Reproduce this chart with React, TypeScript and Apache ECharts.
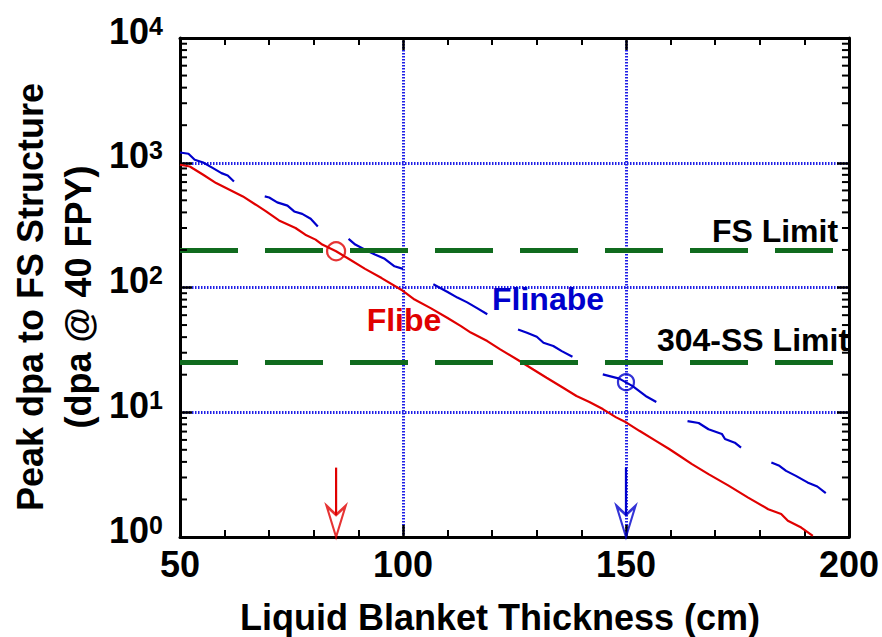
import React, { useEffect, useRef } from "react";
import * as echarts from "echarts";

// ---- axis / tick data ----
const xMin = 50;
const xMax = 200;
const xInterval = 50;
const yMin = 1;
const yMax = 10000;
const yMinorTicks = [
  2, 3, 4, 5, 6, 7, 8, 9,
  20, 30, 40, 50, 60, 70, 80, 90,
  200, 300, 400, 500, 600, 700, 800, 900,
  2000, 3000, 4000, 5000, 6000, 7000, 8000, 9000,
];

// ---- Flibe (red) ----
const flibeX = [
  50, 52.2, 55.2, 58.1, 61.1, 64.1, 67.0, 69.3, 72.2, 75.9, 78.1, 80.4, 81.9, 85.0,
  87.8, 91.5, 95.2, 99.6, 102.6, 106.3, 110.0, 113.0, 115.2, 118.9, 121.8, 125.6,
  129.3, 132.2, 135.9, 138.9, 141.8, 144.8, 147.8, 150.0, 153.0, 156.7, 159.6,
  161.9, 164.8, 168.5, 173.0, 177.4, 181.9, 184.8, 186.3, 189.3, 191.9,
];
const flibeY = [
  964, 933, 802, 687, 608, 537, 461, 407, 345, 300, 265, 242, 221, 195,
  170, 141, 119, 96, 80, 68, 57, 49, 43.5, 37.2, 31.9, 26.5,
  21.9, 18.9, 15.7, 13.5, 12.1, 10.6, 9.1, 8.3, 7.1, 5.9, 5.1,
  4.5, 3.84, 3.19, 2.58, 2.07, 1.67, 1.53, 1.35, 1.19, 1.02,
];

// ---- Flinabe (blue), drawn as broken segments ----
const flinabeSeg1 = [[50.0, 1208], [51.9, 1180], [53.3, 1057], [55.2, 1005], [57.4, 906], [59.3, 826], [60.7, 791], [62.1, 708]];
const flinabeSeg2 = [[69.0, 537], [70.0, 527], [71.8, 481], [74.1, 453], [75.6, 407], [77.4, 389], [79.3, 356], [80.9, 309]];
const flinabeSeg3 = [[87.8, 245], [89.3, 221], [91.5, 201], [93.7, 184], [95.9, 170], [98.1, 148], [100.0, 141]];
const flinabeSeg4 = [[106.8, 106], [110.0, 92], [112.2, 83], [114.4, 76], [116.7, 68], [118.9, 61]];
const flinabeSeg5 = [[125.8, 46.1], [127.8, 43.4], [130.0, 40.3], [131.5, 36.1], [133.7, 34.0], [135.6, 30.9], [138.0, 27.9]];
const flinabeSeg6 = [[144.8, 20.1], [148.5, 18.6], [151.5, 16.2], [154.4, 13.5], [156.8, 12.1]];
const flinabeSeg7 = [[163.8, 8.5], [166.3, 8.2], [168.5, 7.3], [171.5, 6.7], [172.2, 6.1], [174.4, 5.7], [175.8, 5.2]];
const flinabeSeg8 = [[182.6, 3.96], [184.4, 3.72], [185.9, 3.39], [188.1, 3.09], [190.7, 2.74], [192.9, 2.54], [194.8, 2.25]];
const flinabeSegments = [flinabeSeg1, flinabeSeg2, flinabeSeg3, flinabeSeg4, flinabeSeg5, flinabeSeg6, flinabeSeg7, flinabeSeg8];

// ---- limits, markers, arrows ----
const fsLimit = 200;
const ss304Limit = 25;
const flibePoint = [85, 195];
const flinabePoint = [150, 17.4];
const flibeArrowX = 85;
const flinabeArrowX = 150;
const arrowTop = 3.6;
const arrowNotch = 1.5;
const arrowTip = 1;

const RED = "#e00000";
const BLUE = "#0000cc";
const GREEN = "#106b1e";
const GRIDBLUE = "#1f1fe6";
const FONT = "'Liberation Sans', Arial, Helvetica, sans-serif";

const arrowHead = "path://M0,0L9.5,9L19,0L9.5,31Z";

function frameAxis(position: string, showLabel: boolean, isX: boolean) {
  const base: any = {
    position,
    axisLine: { show: true, onZero: false, lineStyle: { color: "#000", width: 3 } },
    axisTick: { show: true, inside: true, length: 12, lineStyle: { color: "#000", width: 2.5 } },
    splitLine: {
      show: showLabel,
      showMinLine: true,
      showMaxLine: true,
      lineStyle: { color: GRIDBLUE, width: 3, type: [1.5, 1.5] },
    },
  };
  if (isX) {
    Object.assign(base, {
      type: "value",
      min: xMin,
      max: xMax,
      interval: xInterval,
      minorTick: { show: true, splitNumber: 5, length: 7, lineStyle: { color: "#000", width: 2 } },
      axisLabel: {
        show: showLabel,
        margin: 9,
        color: "#000",
        fontFamily: FONT,
        fontWeight: "bold",
        fontSize: 36,
      },
    });
  } else {
    Object.assign(base, {
      type: "log",
      logBase: 10,
      min: yMin,
      max: yMax,
      minorTick: { show: false },
      axisLabel: {
        show: showLabel,
        margin: 17,
        padding: [0, 0, 14, 0],
        formatter: (v: number) => `{b|10}{e|${Math.round(Math.log10(v))}}`,
        rich: {
          b: { fontSize: 36, fontWeight: "bold", fontFamily: FONT, color: "#000", lineHeight: 36 },
          e: { fontSize: 25, fontWeight: "bold", fontFamily: FONT, color: "#000", verticalAlign: "top", lineHeight: 14 },
        },
      },
    });
  }
  return base;
}

function textEl(text: string, x: number, y: number, color: string, size: number, extra: any = {}) {
  return {
    type: "text",
    x,
    y,
    z: 100,
    ...extra,
    style: {
      text,
      fill: color,
      font: `bold ${size}px ${FONT}`,
      textAlign: "center",
      textVerticalAlign: "middle",
      ...(extra.style || {}),
    },
  };
}

export default function App() {
  const ref = useRef<HTMLDivElement>(null);

  useEffect(() => {
    if (!ref.current) return;
    const chart = echarts.init(ref.current, null, { renderer: "svg" });

    const flibeData = flibeX.map((x, i) => [x, flibeY[i]]);

    const series: any[] = [
      {
        name: "limits",
        type: "line",
        data: [],
        z: 1,
        markLine: {
          silent: true,
          symbol: ["none", "none"],
          label: { show: false },
          lineStyle: { color: GREEN, width: 5, type: [58, 27] },
          data: [{ yAxis: fsLimit }, { yAxis: ss304Limit }],
        },
      },
      {
        name: "Flibe",
        type: "line",
        data: flibeData,
        showSymbol: false,
        z: 3,
        lineStyle: { color: RED, width: 2.2 },
      },
      ...flinabeSegments.map((seg, i) => ({
        name: "Flinabe" + i,
        type: "line",
        data: seg,
        showSymbol: false,
        z: 3,
        lineStyle: { color: BLUE, width: 2.2 },
      })),
      {
        name: "yMinorTicks",
        type: "custom",
        z: 5,
        clip: false,
        data: yMinorTicks.map((v) => [xMin, v]),
        renderItem: (params: any, api: any) => {
          const v = api.value(1);
          const pl = api.coord([xMin, v]);
          const pr = api.coord([xMax, v]);
          const st = { stroke: "#000", lineWidth: 2 };
          return {
            type: "group",
            children: [
              { type: "line", shape: { x1: pl[0], y1: pl[1], x2: pl[0] + 7, y2: pl[1] }, style: st },
              { type: "line", shape: { x1: pr[0], y1: pr[1], x2: pr[0] - 7, y2: pr[1] }, style: st },
            ],
          };
        },
      },
      {
        name: "flibeCircle",
        type: "scatter",
        z: 4,
        data: [flibePoint],
        symbol: "circle",
        symbolSize: 18,
        itemStyle: { color: "rgba(0,0,0,0)", borderColor: RED, borderWidth: 2.2 },
      },
      {
        name: "flinabeCircle",
        type: "scatter",
        z: 4,
        data: [flinabePoint],
        symbol: "circle",
        symbolSize: 16,
        itemStyle: { color: "rgba(0,0,0,0)", borderColor: BLUE, borderWidth: 2.2 },
      },
      {
        name: "flibeArrowShaft",
        type: "line",
        z: 4,
        data: [[flibeArrowX, arrowTop], [flibeArrowX, arrowNotch]],
        showSymbol: false,
        lineStyle: { color: RED, width: 2.2 },
      },
      {
        name: "flinabeArrowShaft",
        type: "line",
        z: 4,
        data: [[flinabeArrowX, arrowTop], [flinabeArrowX, arrowNotch]],
        showSymbol: false,
        lineStyle: { color: BLUE, width: 2.2 },
      },
      {
        name: "flibeArrowHead",
        type: "scatter",
        z: 4,
        clip: false,
        data: [[flibeArrowX, arrowTip]],
        symbol: arrowHead,
        symbolSize: [19, 31],
        symbolOffset: [0, -15.5],
        itemStyle: { color: "rgba(0,0,0,0)", borderColor: RED, borderWidth: 2.5 },
      },
      {
        name: "flinabeArrowHead",
        type: "scatter",
        z: 4,
        clip: false,
        data: [[flinabeArrowX, arrowTip]],
        symbol: arrowHead,
        symbolSize: [19, 31],
        symbolOffset: [0, -15.5],
        itemStyle: { color: "rgba(0,0,0,0)", borderColor: BLUE, borderWidth: 2.5 },
      },
    ];

    const option: any = {
      animation: false,
      backgroundColor: "#ffffff",
      grid: { left: 180, right: 29, top: 38, bottom: 100, containLabel: false },
      xAxis: [frameAxis("bottom", true, true), frameAxis("top", false, true)],
      yAxis: [frameAxis("left", true, false), frameAxis("right", false, false)],
      series,
      graphic: [
        textEl("Liquid Blanket Thickness (cm)", 500, 617, "#000", 36),
        textEl("Peak dpa to FS Structure\n(dpa @ 40 FPY)", 54, 297, "#000", 36, {
          rotation: Math.PI / 2,
          style: { lineHeight: 48 },
        }),
        textEl("FS Limit", 775, 231, "#000", 32),
        textEl("304-SS Limit", 753, 340, "#000", 32),
        textEl("Flibe", 404, 320, RED, 32),
        textEl("Flinabe", 548, 299, BLUE, 32),
      ],
    };

    chart.setOption(option);
    return () => chart.dispose();
  }, []);

  return (
    <div
      ref={ref}
      style={{ position: "fixed", left: 0, top: 0, width: 882, height: 637, background: "#fff" }}
    />
  );
}
